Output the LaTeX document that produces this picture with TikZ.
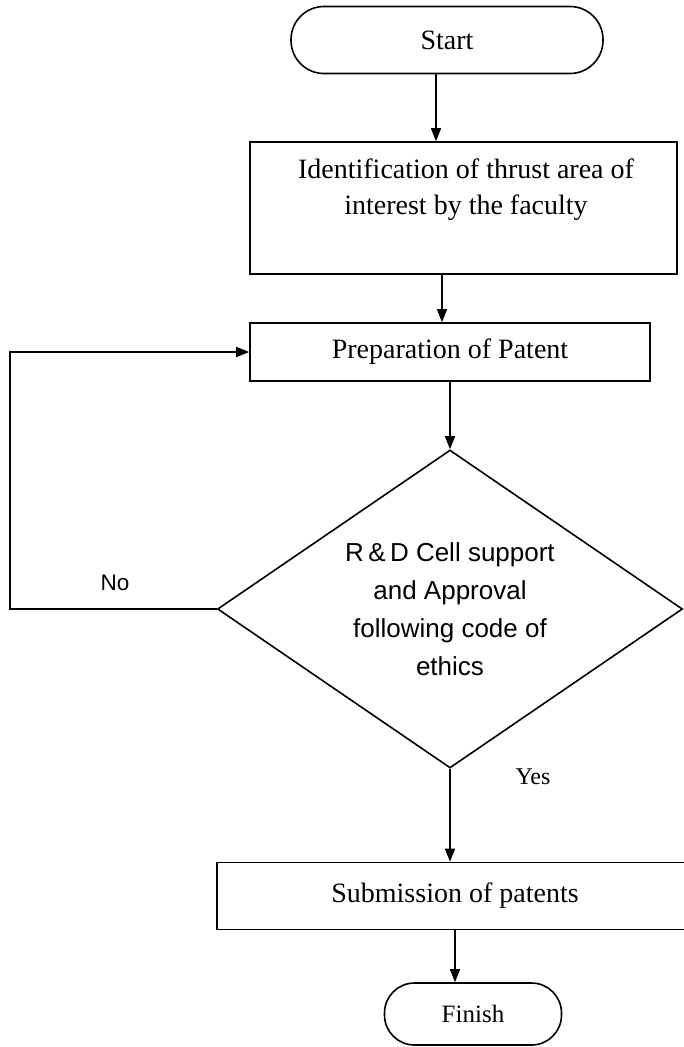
\documentclass[tikz,border=0pt]{standalone}
\usepackage{fontspec}
\setmainfont{Liberation Serif}
\newfontfamily\arialfont{Liberation Sans}
\usetikzlibrary{shapes.geometric,arrows.meta}
\newcommand\boxfont{\fontsize{28}{36}\selectfont}
\newcommand\decfont{\arialfont\fontsize{26}{38}\selectfont}
\tikzset{
  box/.style={draw, line width=1.6pt, inner sep=0pt, font=\boxfont},
  terminal/.style={box, rounded corners=31pt},
  decision/.style={draw, diamond, line width=1.6pt, inner sep=0pt, aspect=1.46,
    minimum width=465pt, minimum height=318pt, align=center, font=\decfont},
  arrow/.style={line width=1.6pt, -{Triangle[length=13pt,width=10pt]}}
}
\begin{document}
\begin{tikzpicture}[x=1pt, y=-1pt]
    \useasboundingbox [fill=white] (0,0) rectangle (683,1047);
    % start
    \node [terminal, minimum width=312pt, minimum height=67pt, rounded corners=33pt]
      (start) at (447,40) {Start};
    % thrust area
    \node [box, minimum width=427pt, minimum height=132pt] (ident) at (463.5,208) {};
    \node [align=center, font=\boxfont] (identtext) at (466,190)
      {Identification of thrust area of\\ interest by the faculty};
    % patent draft
    \node [box, minimum width=400pt, minimum height=58pt] (prep) at (450,352)
      {Preparation of Patent};
    % approval
    \node [decision] (check) at (450,609)
      {R\,\&\,D Cell support\\ and Approval\\ following code of\\ ethics};
    % submission
    \node [box, minimum width=476pt, minimum height=67pt] (sub) at (455,896)
      {Submission of patents};
    % finish
    \node [terminal, minimum width=177pt, minimum height=62pt, rounded corners=30pt,
      font=\fontsize{25}{30}\selectfont] (finish) at (473,1014) {Finish};
    % labels
    \node [font=\arialfont\fontsize{22.5}{26}\selectfont] (no) at (115,583) {No};
    \node [font=\fontsize{24}{28}\selectfont] (yes) at (533,777) {Yes};
    % arrows
    \draw [arrow] ([xshift=-11pt]start.south) -- ([xshift=-11pt]start.south |- ident.north);
    \draw [arrow] ([xshift=-21.5pt]ident.south) -- ([xshift=-21.5pt]ident.south |- prep.north);
    \draw [arrow] (prep.south) -- (check.north);
    \draw [arrow] (check.south) -- (check.south |- sub.north);
    \draw [arrow] (sub.south) -- (sub.south |- finish.north);
    % back to preparation
    \coordinate (back) at (10,609);
    \draw [arrow] (check.west) -- (back) |- (prep.west);
\end{tikzpicture}
\end{document}
